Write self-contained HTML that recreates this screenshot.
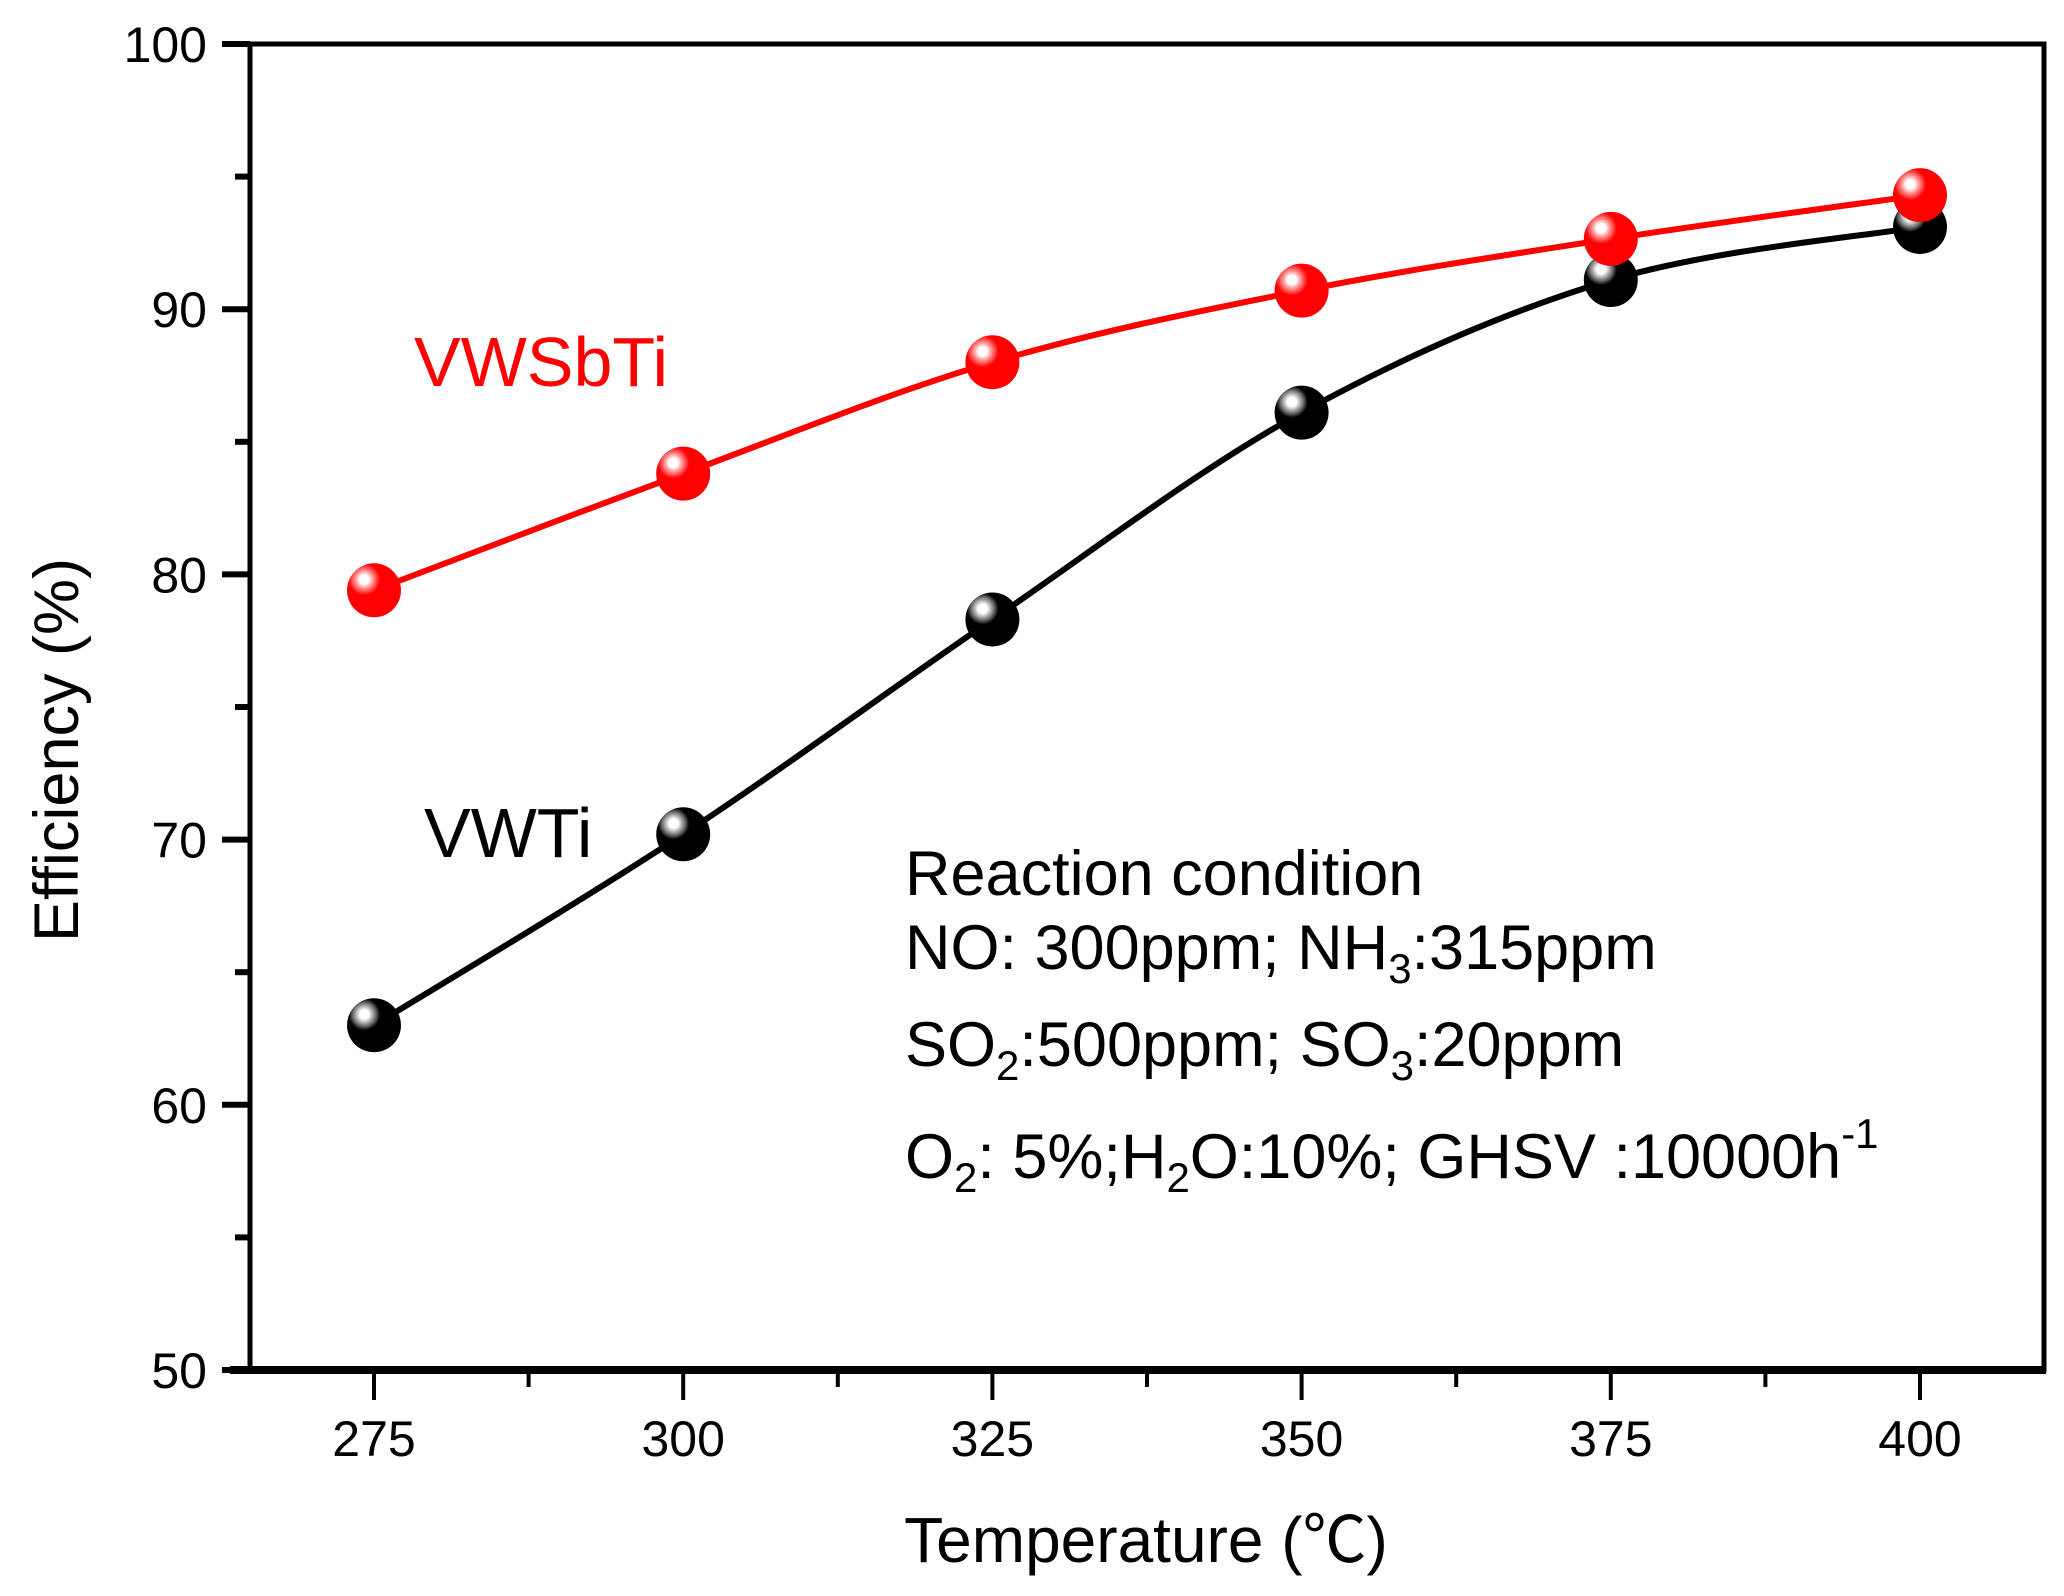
<!DOCTYPE html>
<html><head><meta charset="utf-8"><style>
html,body{margin:0;padding:0;background:#fff}
svg{display:block}
text{font-family:"Liberation Sans","Noto Sans CJK SC",sans-serif}
</style></head><body>
<svg id="chart" width="2064" height="1596" viewBox="0 0 2064 1596" xmlns="http://www.w3.org/2000/svg">
<defs>
<radialGradient id="gr" cx="0.32" cy="0.3" r="0.7">
<stop offset="0" stop-color="#fff"/><stop offset="0.12" stop-color="#fff"/><stop offset="0.2" stop-color="#ffb0b0"/><stop offset="0.3" stop-color="#ff6060"/><stop offset="0.42" stop-color="#f00"/><stop offset="1" stop-color="#f00"/>
</radialGradient>
<radialGradient id="gk" cx="0.32" cy="0.3" r="0.7">
<stop offset="0" stop-color="#fff"/><stop offset="0.12" stop-color="#fff"/><stop offset="0.2" stop-color="#c0c0c0"/><stop offset="0.3" stop-color="#707070"/><stop offset="0.42" stop-color="#000"/><stop offset="1" stop-color="#000"/>
</radialGradient>
</defs>
<g id="axes"></g>
<g id="series"></g>
<text x="414" y="386" font-size="70" fill="#f00">VWSbTi</text>
<text x="424" y="857" font-size="70" fill="#000">VWTi</text>
<g font-size="63" fill="#000">
<text x="905" y="895">Reaction condition</text>
<text x="905" y="969">NO: 300ppm; NH<tspan font-size="42" dy="14">3</tspan><tspan dy="-14">:315ppm</tspan></text>
<text x="905" y="1066">SO<tspan font-size="42" dy="14">2</tspan><tspan dy="-14">:500ppm; SO</tspan><tspan font-size="42" dy="14">3</tspan><tspan dy="-14">:20ppm</tspan></text>
<text x="905" y="1178">O<tspan font-size="42" dy="14">2</tspan><tspan dy="-14">: 5%;H</tspan><tspan font-size="42" dy="14">2</tspan><tspan dy="-14">O:10%; GHSV :10000h</tspan><tspan font-size="42" dy="-30">-1</tspan></text>
</g>
<text x="1146" y="1562" font-size="64" text-anchor="middle">Temperature (℃)</text>
<text transform="translate(78,750) rotate(-90)" font-size="63" text-anchor="middle">Efficiency (%)</text>
</svg>
<script>
const temps = [275, 300, 325, 350, 375, 400];
const vwsbti = [79.4, 83.8, 88.0, 90.7, 92.65, 94.3];
const vwti = [63.0, 70.2, 78.3, 86.1, 91.1, 93.1];
const xTicks = [275, 300, 325, 350, 375, 400];
const yTicks = [50, 60, 70, 80, 90, 100];

const NS = "http://www.w3.org/2000/svg";
const L = 250, R = 2044, T = 44, B = 1370;
const xs = v => 374 + (v - 275) * (1920 - 374) / 125;
const ys = v => B - (v - 50) * (B - T) / 50;
function mk(tag, attrs, parent) {
  const e = document.createElementNS(NS, tag);
  for (const k in attrs) e.setAttribute(k, attrs[k]);
  parent.appendChild(e); return e;
}
const axes = document.getElementById('axes');
let f = mk('rect', {x: L, y: T, width: R - L, height: B - T, fill: 'none', stroke: '#000', 'stroke-width': 5}, axes);


let bx = mk('line', {x1: L - 20, y1: B, x2: R + 2, y2: B, stroke: '#000', 'stroke-width': 8}, axes);


yTicks.forEach(v => {
  const t = mk('line', {x1: L - 28, y1: ys(v), x2: L, y2: ys(v), stroke: '#000', 'stroke-width': 6}, axes);
  
  
  const lb = mk('text', {x: 207, y: ys(v) + 18, 'font-size': 50, 'text-anchor': 'end'}, axes);
  lb.textContent = v;
  
  
  if (v < 100) {
    const m = mk('line', {x1: L - 15, y1: ys(v + 5), x2: L, y2: ys(v + 5), stroke: '#000', 'stroke-width': 6}, axes);
    
    
  }
});
xTicks.forEach(v => {
  const t = mk('line', {x1: xs(v), y1: B, x2: xs(v), y2: B + 30, stroke: '#000', 'stroke-width': 4}, axes);
  
  
  const lb = mk('text', {x: xs(v), y: 1456, 'font-size': 50, 'text-anchor': 'middle'}, axes);
  lb.textContent = v;
  
  
  if (v < 400) {
    const m = mk('line', {x1: xs(v + 12.5), y1: B, x2: xs(v + 12.5), y2: B + 17, stroke: '#000', 'stroke-width': 4}, axes);
    
    
  }
});
function spline(pts) {
  let d = `M${pts[0][0]},${pts[0][1]}`;
  for (let i = 0; i < pts.length - 1; i++) {
    const p0 = pts[Math.max(0, i - 1)], p1 = pts[i], p2 = pts[i + 1], p3 = pts[Math.min(pts.length - 1, i + 2)];
    const c1 = [p1[0] + (p2[0] - p0[0]) / 6, p1[1] + (p2[1] - p0[1]) / 6];
    const c2 = [p2[0] - (p3[0] - p1[0]) / 6, p2[1] - (p3[1] - p1[1]) / 6];
    d += ` C${c1[0]},${c1[1]} ${c2[0]},${c2[1]} ${p2[0]},${p2[1]}`;
  }
  return d;
}
const sg = document.getElementById('series');
function drawSeries(vals, color, grad, name) {
  const pts = temps.map((t, i) => [xs(t), ys(vals[i])]);
  const p = mk('path', {d: spline(pts), fill: 'none', stroke: color, 'stroke-width': 6}, sg);
  
  
  pts.forEach(pt => {
    const c = mk('circle', {cx: pt[0], cy: pt[1], r: 27, fill: `url(#${grad})`}, sg);
    
    
  });
}
drawSeries(vwti, '#000', 'gk', 'vwti');
drawSeries(vwsbti, '#f00', 'gr', 'vwsbti');
</script>
</body></html>
